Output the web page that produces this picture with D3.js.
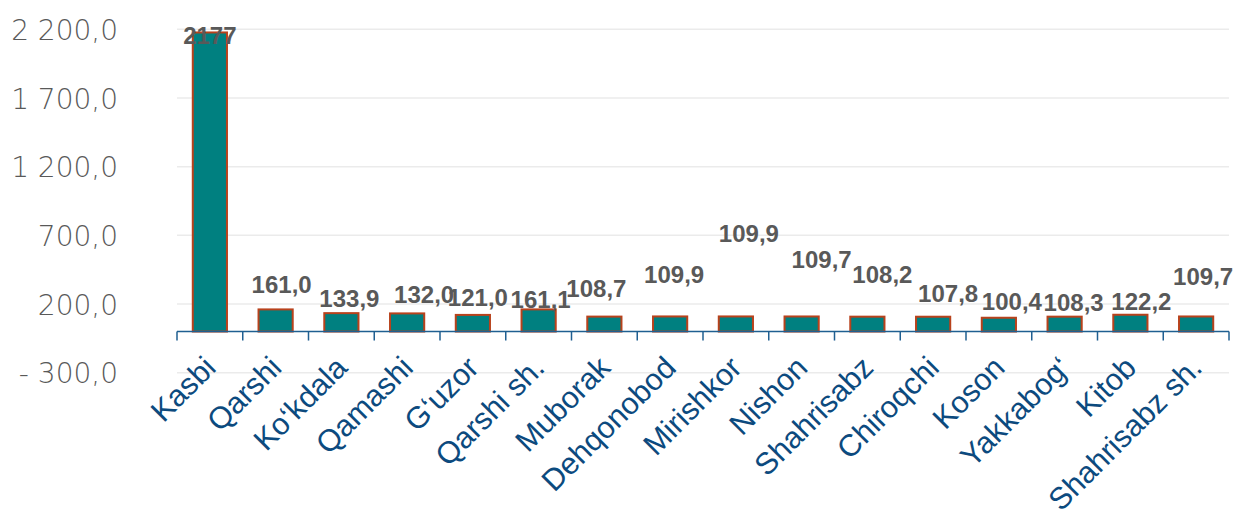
<!DOCTYPE html>
<html>
<head>
<meta charset="utf-8">
<script src="https://cdn.jsdelivr.net/npm/d3@7"></script>
<style>
  html, body { margin: 0; padding: 0; background: #ffffff; }
  svg { display: block; }
</style>
</head>
<body>
<div id="chart"></div>
<script>
(function() {
    'use strict';

    // data
    var districts = ["Kasbi", "Qarshi", "Ko\u2018kdala", "Qamashi", "G\u2018uzor", "Qarshi sh.",
        "Muborak", "Dehqonobod", "Mirishkor", "Nishon", "Shahrisabz", "Chiroqchi",
        "Koson", "Yakkabog\u2018", "Kitob", "Shahrisabz sh."];
    var values = [2177, 161.0, 133.9, 132.0, 121.0, 161.1, 108.7, 109.9, 109.9, 109.7,
        108.2, 107.8, 100.4, 108.3, 122.2, 109.7];
    var yTicks = [-300, 200, 700, 1200, 1700, 2200];

    // hand placed label nudges (px) as in the original chart
    var labelNudge = [[0, 18], [6, -10], [8, 0], [17, -4], [5, -3], [2, 5], [-8, -14], [4, -27],
        [13, -68], [20, -42], [15, -28], [15, -9], [13, -2], [9, 0], [11, 1], [7, -25]];

    var width = 1234, height = 515;
    var margin = {top: 29.3, right: 5, bottom: 142.25, left: 177};

    var svg = d3.select("#chart").append("svg")
        .attr("width", width)
        .attr("height", height);

    var xScale = d3.scaleBand()
        .domain(districts)
        .range([margin.left, width - margin.right])
        .paddingInner(0.48)
        .paddingOuter(0.24);

    var yScale = d3.scaleLinear()
        .domain([-300, 2200])
        .range([height - margin.bottom, margin.top]);

    var loc = d3.formatLocale({decimal: ",", thousands: "\u00a0", grouping: [3], currency: ["", ""], minus: "-\u00a0"});
    var yFmt = loc.format(",.1f");

    // gridlines
    svg.append("g")
        .selectAll("line")
        .data(yTicks)
        .enter().append("line")
        .attr("x1", margin.left)
        .attr("x2", width - margin.right)
        .attr("y1", d => yScale(d))
        .attr("y2", d => yScale(d))
        .attr("stroke", "#ebebeb")
        .attr("stroke-width", 1.5);

    // y axis (labels only)
    var yAxis = d3.axisLeft(yScale)
        .tickValues(yTicks)
        .tickFormat(yFmt)
        .tickSize(0)
        .tickPadding(0);

    var gy = svg.append("g")
        .attr("transform", "translate(118,0)")
        .call(yAxis);
    gy.select(".domain").remove();
    gy.selectAll("text")
        .attr("dy", "0.36em")
        .style("font-family", "'DejaVu Sans', sans-serif")
        .style("font-weight", "200")
        .style("font-size", "28px")
        .attr("fill", "#595959");

    // bars
    svg.append("g")
        .selectAll("rect")
        .data(values)
        .enter().append("rect")
        .attr("x", (d, i) => xScale(districts[i]))
        .attr("y", d => yScale(Math.max(0, d)))
        .attr("width", xScale.bandwidth())
        .attr("height", d => Math.abs(yScale(d) - yScale(0)))
        .attr("fill", "#008080")
        .attr("stroke", "#b8421c")
        .attr("stroke-width", 2);

    // category axis at zero
    var xAxis = d3.axisBottom(xScale)
        .tickSize(0)
        .tickFormat("");
    var gx = svg.append("g")
        .attr("transform", "translate(0," + yScale(0) + ")")
        .call(xAxis);
    gx.select(".domain")
        .attr("d", "M" + margin.left + ",0H" + (width - margin.right))
        .attr("stroke", "#1f5f91")
        .attr("stroke-width", 1.5);

    var step = xScale.step();
    var edges = d3.range(districts.length + 1).map(i => margin.left + i * step);
    gx.selectAll(".edge")
        .data(edges)
        .enter().append("line")
        .attr("class", "edge")
        .attr("x1", d => d).attr("x2", d => d)
        .attr("y1", 0).attr("y2", 9)
        .attr("stroke", "#1f5f91")
        .attr("stroke-width", 1.5);

    // rotated category labels
    svg.append("g")
        .selectAll("text")
        .data(districts)
        .enter().append("text")
        .attr("transform", d => "translate(" + (xScale(d) + xScale.bandwidth() / 2) + ",362) rotate(-45)")
        .attr("dy", "0.35em")
        .attr("text-anchor", "end")
        .style("font-family", "'Liberation Sans', Arial, sans-serif")
        .style("font-size", "30.5px")
        .attr("fill", "#0c4a7e")
        .text(d => d);

    // value labels
    var valFmt = d => d >= 1000 ? d3.format("d")(d) : d3.format(".1f")(d).replace(".", ",");
    svg.append("g")
        .selectAll("text")
        .data(values)
        .enter().append("text")
        .attr("x", (d, i) => xScale(districts[i]) + xScale.bandwidth() / 2 + labelNudge[i][0])
        .attr("y", (d, i) => yScale(d) - 6 + labelNudge[i][1])
        .attr("text-anchor", "middle")
        .style("font-family", "'Liberation Sans', Arial, sans-serif")
        .style("font-weight", "bold")
        .style("font-size", "24px")
        .attr("fill", "#595959")
        .text(valFmt);
})();
</script>
</body>
</html>
